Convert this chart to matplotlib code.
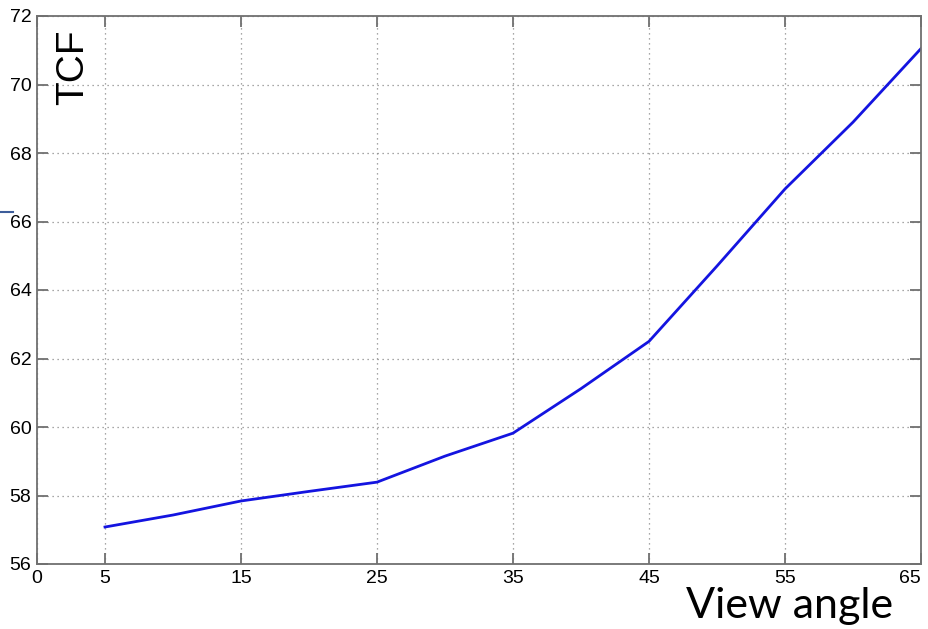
import matplotlib
matplotlib.use("Agg")
import matplotlib.pyplot as plt
from matplotlib.lines import Line2D

# valores
angulos = [5, 10, 15, 20, 25, 30, 35, 40, 45, 50, 55, 60, 65]
tcf = [57.08, 57.43, 57.84, 58.12, 58.39, 59.15, 59.82, 61.12, 62.5, 64.7, 66.95, 68.9, 71.05]

xticks = [0, 5, 15, 25, 35, 45, 55, 65]
yticks = [56, 58, 60, 62, 64, 66, 68, 70, 72]

fonte_ticks = ["Liberation Sans Narrow", "Liberation Sans", "DejaVu Sans"]

fig = plt.figure(figsize=(9.29, 6.29), dpi=100)
ax = fig.add_axes([37 / 929, 65 / 629, 884 / 929, 548 / 629])

ax.plot(angulos, tcf, color="#1414e0", lw=2.0)

ax.set_xlim(0, 65)
ax.set_ylim(56, 72)
ax.set_xticks(xticks)
ax.set_yticks(yticks)
ax.grid(True, linestyle=(0, (1, 3)), color="#8a8a8a", lw=0.9)

for s in ax.spines.values():
    s.set_color("#707070")
    s.set_linewidth(1.3)

ax.tick_params(direction="in", length=8, width=1.3, color="#707070",
               top=True, right=True, labelsize=14, pad=4)
for lab in ax.get_xticklabels() + ax.get_yticklabels():
    lab.set_family(fonte_ticks)
# o ultimo rotulo fica encostado na borda, como no original
ax.get_xticklabels()[-1].set_horizontalalignment("right")
ax.get_xticklabels()[-1].set_x(65)

# rótulos
ax.text(0.041, 0.975, "TCF", transform=ax.transAxes, rotation=90,
        ha="center", va="top", fontsize=28, family=["Liberation Sans", "DejaVu Sans"])
fig.text(790 / 929, 1 - 606 / 629, "View angle", ha="center", va="center",
         fontsize=31, family=["Lato", "Open Sans", "DejaVu Sans"])

# tracinho azul na margem esquerda
fig.add_artist(Line2D([0, 13 / 929], [1 - 212 / 629, 1 - 212 / 629],
                      color="#3d5d9a", lw=1.5, transform=fig.transFigure))

plt.savefig("out.png", dpi=100)
